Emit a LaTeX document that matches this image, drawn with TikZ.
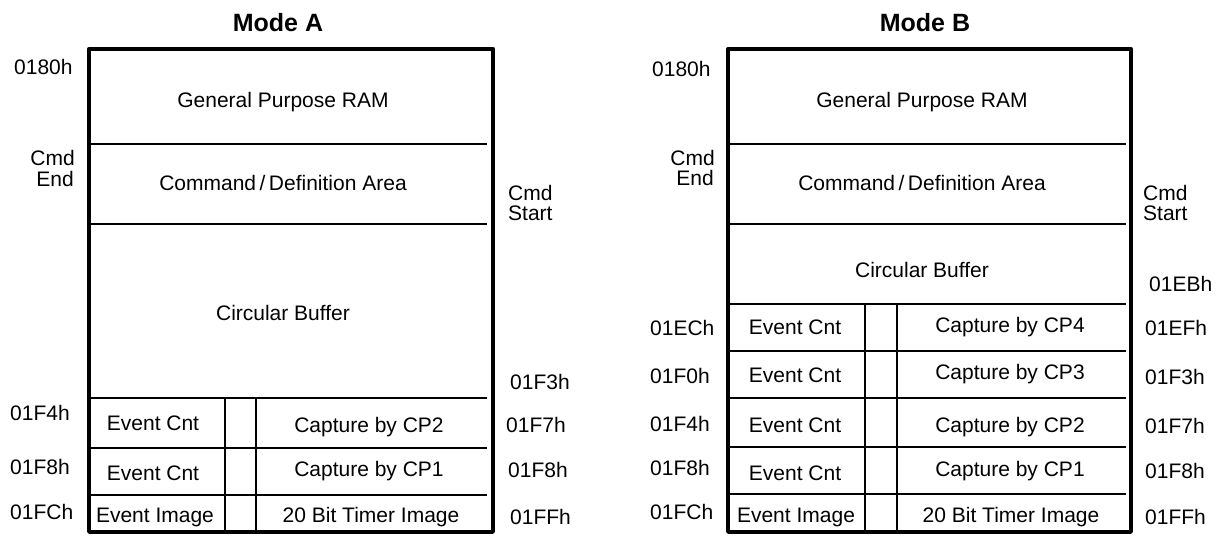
\documentclass[tikz,border=0pt]{standalone}
\usepackage{fontspec}
\setmainfont{Liberation Sans}
\begin{document}
\begin{tikzpicture}[x=1pt,y=-1pt,
  lbl/.style={font=\fontsize{21}{21}\selectfont, inner sep=0pt},
  ttl/.style={font=\fontsize{25}{25}\selectfont\bfseries, inner sep=0pt},
  frame/.style={line width=4.5pt, line join=round},
  sep/.style={line width=2pt}]
\useasboundingbox (0,0) rectangle (1224,536);

% ---------------- Mode A ----------------
\node[ttl, anchor=base] (titleA) at (278,31) {Mode A};
\draw[frame] (89.2,49) rectangle (492.8,531.8);
\foreach \yy in {144,224,398,448,495} \draw[sep] (89,\yy) -- (487,\yy);
\draw[sep] (225,398) -- (225,532);
\draw[sep] (256,398) -- (256,532);

\node[lbl, anchor=base] (gpA) at (283,107.5) {General Purpose RAM};
\node[lbl, anchor=base] (cdA) at (283,190.5) {Command\,/\,Definition Area};
\node[lbl, anchor=base] (cbA) at (283,320.5) {Circular Buffer};
\node[lbl, anchor=base] (ec1A) at (153,430.5) {Event Cnt};
\node[lbl, anchor=base] (cp2A) at (369,432) {Capture by CP2};
\node[lbl, anchor=base] (ec2A) at (153,480.5) {Event Cnt};
\node[lbl, anchor=base] (cp1A) at (369,476.5) {Capture by CP1};
\node[lbl, anchor=base] (eiA) at (155,522.5) {Event Image};
\node[lbl, anchor=base] (tiA) at (371,522.5) {20 Bit Timer Image};

\node[lbl, anchor=base west] (a0180) at (14,74.5) {0180h};
\node[lbl, anchor=base east] (acmd) at (75,165.5) {Cmd};
\node[lbl, anchor=base east] (aend) at (74,186.5) {End};
\node[lbl, anchor=base west] (a01F4) at (10,420.5) {01F4h};
\node[lbl, anchor=base west] (a01F8) at (10,474.5) {01F8h};
\node[lbl, anchor=base west] (a01FC) at (10,519.5) {01FCh};

\node[lbl, anchor=base west] (acmds) at (508,200.5) {Cmd};
\node[lbl, anchor=base west] (astart) at (508,220.5) {Start};
\node[lbl, anchor=base west] (a01F3) at (510,389.5) {01F3h};
\node[lbl, anchor=base west] (a01F7) at (506,432.5) {01F7h};
\node[lbl, anchor=base west] (a01F8r) at (508,477.5) {01F8h};
\node[lbl, anchor=base west] (a01FF) at (510,524.5) {01FFh};

% ---------------- Mode B ----------------
\node[ttl, anchor=base] (titleB) at (925,31) {Mode B};
\draw[frame] (728.2,49) rectangle (1130.8,531.8);
\foreach \yy in {144,224,304,351,398,447,494} \draw[sep] (728,\yy) -- (1126,\yy);
\draw[sep] (865,304) -- (865,532);
\draw[sep] (897,304) -- (897,532);

\node[lbl, anchor=base] (gpB) at (922,107.5) {General Purpose RAM};
\node[lbl, anchor=base] (cdB) at (922,190.5) {Command\,/\,Definition Area};
\node[lbl, anchor=base] (cbB) at (922,277.5) {Circular Buffer};
\node[lbl, anchor=base] (ec4B) at (795,334.5) {Event Cnt};
\node[lbl, anchor=base] (cp4B) at (1010,332.5) {Capture by CP4};
\node[lbl, anchor=base] (ec3B) at (795,382.5) {Event Cnt};
\node[lbl, anchor=base] (cp3B) at (1010,379.5) {Capture by CP3};
\node[lbl, anchor=base] (ec2B) at (795,432.5) {Event Cnt};
\node[lbl, anchor=base] (cp2B) at (1010,432) {Capture by CP2};
\node[lbl, anchor=base] (ec1B) at (795,480.5) {Event Cnt};
\node[lbl, anchor=base] (cp1B) at (1010,476.5) {Capture by CP1};
\node[lbl, anchor=base] (eiB) at (796,522.5) {Event Image};
\node[lbl, anchor=base] (tiB) at (1011,522.5) {20 Bit Timer Image};

\node[lbl, anchor=base west] (b0180) at (652,76) {0180h};
\node[lbl, anchor=base east] (bcmd) at (715,165.5) {Cmd};
\node[lbl, anchor=base east] (bend) at (714,185.5) {End};
\node[lbl, anchor=base west] (b01EC) at (650,335.5) {01ECh};
\node[lbl, anchor=base west] (b01F0) at (650,383.5) {01F0h};
\node[lbl, anchor=base west] (b01F4) at (650,431.5) {01F4h};
\node[lbl, anchor=base west] (b01F8) at (650,475.5) {01F8h};
\node[lbl, anchor=base west] (b01FC) at (650,519.5) {01FCh};

\node[lbl, anchor=base west] (bcmds) at (1143,200.5) {Cmd};
\node[lbl, anchor=base west] (bstart) at (1143,220.5) {Start};
\node[lbl, anchor=base west] (b01EB) at (1149,291) {01EBh};
\node[lbl, anchor=base west] (b01EF) at (1145,335.5) {01EFh};
\node[lbl, anchor=base west] (b01F3) at (1145,384.5) {01F3h};
\node[lbl, anchor=base west] (b01F7) at (1145,433.5) {01F7h};
\node[lbl, anchor=base west] (b01F8) at (1145,478.5) {01F8h};
\node[lbl, anchor=base west] (b01FF) at (1145,524.5) {01FFh};
\end{tikzpicture}
\end{document}
